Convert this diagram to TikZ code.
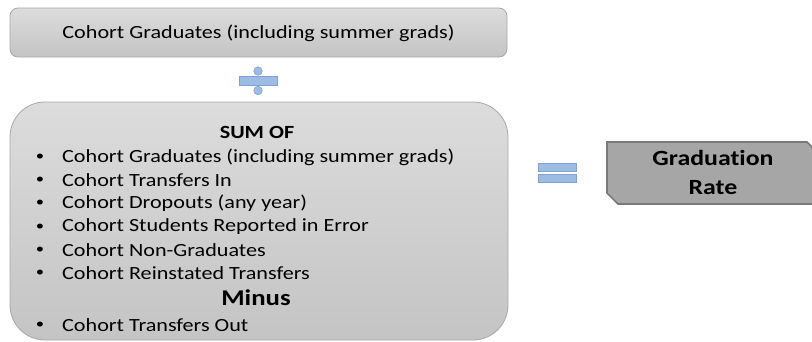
\documentclass[tikz,border=0pt]{standalone}
\usepackage{fontspec}
\setmainfont{Carlito}[FakeStretch=1.19, Ligatures=NoCommon]
\definecolor{boxline}{HTML}{A8A8A8}
\definecolor{boxtop}{HTML}{DCDCDC}
\definecolor{boxbot}{HTML}{C4C4C4}
\definecolor{symfill}{HTML}{9DBCE4}
\definecolor{symline}{HTML}{7FA2D2}
\definecolor{ratefill}{HTML}{A6A6A6}
\definecolor{rateline}{HTML}{7A7A7A}
\tikzset{
  graybox/.style={draw=boxline, line width=0.8pt, top color=boxtop, bottom color=boxbot, inner sep=0pt, outer sep=0pt},
  symbol/.style={draw=symline, line width=0.6pt, fill=symfill},
  body/.style={font=\fontsize{18.6}{22}\selectfont, inner sep=0pt, anchor=west},
  bul/.style={font=\fontsize{14}{16}\selectfont, inner sep=0pt},
}
\begin{document}
\begin{tikzpicture}[x=1pt,y=-1pt]
\useasboundingbox (0,0) rectangle (812,341);
% top box
\node[graybox, rounded corners=8pt, minimum width=497pt, minimum height=49pt] (top) at (258.5,32.5) {};
\node[font=\fontsize{18.6}{22}\selectfont, inner sep=0pt] (toptext) at (258.5,33) {Cohort Graduates (including summer grads)};
% divide sign
\node[symbol, rectangle, minimum width=38pt, minimum height=9pt, inner sep=0pt] (divbar) at (258,81) {};
\node[symbol, circle, minimum size=8.5pt, inner sep=0pt] (divtop) at (258,71) {};
\node[symbol, circle, minimum size=8.5pt, inner sep=0pt] (divbot) at (258,90.5) {};
% big box
\node[graybox, rounded corners=35pt, minimum width=498pt, minimum height=238pt] (sum) at (259,221) {};
\node[font=\bfseries\fontsize{18.6}{22}\selectfont, inner sep=0pt] (sumof) at (257,132) {SUM OF};
\foreach \y/\t/\n in {157/Cohort Graduates (including summer grads)/a,
                      180/Cohort Transfers In/b,
                      203/Cohort Dropouts (any year)/c,
                      227/Cohort Students Reported in Error/d,
                      250/Cohort Non-Graduates/e,
                      273/Cohort Reinstated Transfers/f} {
  \node[bul] (bul\n) at (40,\y) {\textbullet};
  \node[body] (item\n) at (62,\y) {\t};
}
\node[font=\bfseries\fontsize{22.5}{26}\selectfont, inner sep=0pt] (minus) at (256,298) {Minus};
\node[bul] (bulg) at (40,325) {\textbullet};
\node[body] (itemg) at (62,325) {Cohort Transfers Out};
% equals sign
\node[symbol, rectangle, minimum width=38pt, minimum height=8pt, inner sep=0pt] (eqtop) at (557,167) {};
\node[symbol, rectangle, minimum width=38pt, minimum height=8pt, inner sep=0pt] (eqbot) at (557,178) {};
% graduation rate
\draw[fill=ratefill, draw=rateline, line width=1.6pt, line join=miter]
  (607,142) -- (807,142) -- (815,150) -- (815,204) -- (618,204) -- (607,193) -- cycle;
\node[font=\bfseries\fontsize{21.7}{29}\selectfont, align=center, inner sep=0pt] (rate) at (713,172.5) {Graduation\\Rate};
\end{tikzpicture}
\end{document}
